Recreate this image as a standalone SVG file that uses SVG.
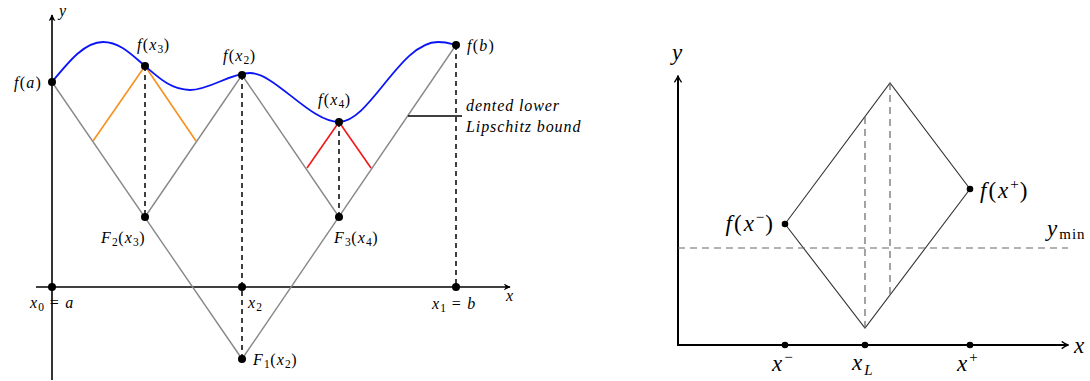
<svg xmlns="http://www.w3.org/2000/svg" width="1090" height="381" viewBox="0 0 1090 381">
<style>
text{font-family:"Liberation Serif","DejaVu Serif",serif;fill:#000}
.m{font-size:16px;letter-spacing:1.2px}
.M{font-size:23px;letter-spacing:2px}
.i{font-style:italic}
.s{font-size:11.5px;letter-spacing:0.5px}
.S{font-size:15px;letter-spacing:1px}
.lab{font-size:16px;letter-spacing:0.9px;font-style:italic}
.axis{stroke:#000;stroke-width:1.6;fill:none}
.gray{stroke:#888;stroke-width:1.4;fill:none}
.dash{stroke:#000;stroke-width:1.5;stroke-dasharray:5 4;fill:none}
.thin{stroke:#333;stroke-width:1.1;fill:none}
.gdash{stroke:#666;stroke-width:1.2;stroke-dasharray:7 5;fill:none}
.dot{fill:#000}
</style>
<defs>
<marker id="arrL" viewBox="0 0 10 10" refX="9" refY="5" markerWidth="7" markerHeight="7" markerUnits="userSpaceOnUse" orient="auto">
<path d="M0,0 L10,5 L0,10 L3,5 Z" fill="#000"/>
</marker>
<marker id="arrR" viewBox="0 0 10 10" refX="9" refY="5" markerWidth="9" markerHeight="9" markerUnits="userSpaceOnUse" orient="auto">
<path d="M2,1 Q6,4 9,5 Q6,6 2,9" fill="none" stroke="#000" stroke-width="1.5"/>
</marker>
</defs>
<rect width="1090" height="381" fill="#fff"/>

<!-- LEFT PLOT -->
<g id="left-axes">
<line class="axis" x1="52" y1="380" x2="52" y2="15" marker-end="url(#arrL)"/>
<line class="axis" x1="36" y1="287" x2="510" y2="287" marker-end="url(#arrL)"/>
<text class="m i" x="59" y="16">y</text>
<text class="m i" x="506" y="301">x</text>
</g>
<g id="left-connectors">
<line class="gray" x1="52" y1="82" x2="242" y2="359"/>
<line class="gray" x1="242" y1="359" x2="456" y2="45"/>
<line class="gray" x1="242" y1="75" x2="145" y2="217"/>
<line class="gray" x1="242" y1="75" x2="339" y2="217"/>
<line stroke="#f7901e" stroke-width="1.6" x1="145" y1="66" x2="93" y2="141"/>
<line stroke="#f7901e" stroke-width="1.6" x1="145" y1="66" x2="196" y2="141"/>
<line stroke="#f01818" stroke-width="1.6" x1="339" y1="122" x2="307" y2="168"/>
<line stroke="#f01818" stroke-width="1.6" x1="339" y1="122" x2="371" y2="168"/>
<line class="dash" x1="145" y1="66" x2="145" y2="217"/>
<line class="dash" x1="242" y1="75" x2="242" y2="359"/>
<line class="dash" x1="339" y1="122" x2="339" y2="217"/>
<line class="dash" x1="456" y1="45" x2="456" y2="287"/>
<path d="M52,82 C70,60 85,42 103,42 C120,42 132,55 145,66 C160,79 172,90 190,90 C210,90 230,73 250,73 C275,73 310,122 339,122 C370,122 400,42 438,42 C447,42 452,44 456,45" fill="none" stroke="#0a14f5" stroke-width="1.8"/>
<line stroke="#000" stroke-width="1.5" x1="408" y1="116" x2="462" y2="116"/>
</g>
<g id="fa"><circle class="dot" cx="52" cy="82" r="4"/><text class="m" x="42" y="88" text-anchor="end"><tspan class="i">f</tspan>(<tspan class="i">a</tspan>)</text></g>
<g id="fx3"><circle class="dot" cx="145" cy="66" r="4"/><text class="m" x="137" y="50"><tspan class="i">f</tspan>(<tspan class="i">x</tspan><tspan class="s" dy="3">3</tspan><tspan dy="-3">)</tspan></text></g>
<g id="fx2"><circle class="dot" cx="242" cy="75" r="4"/><text class="m" x="223" y="61"><tspan class="i">f</tspan>(<tspan class="i">x</tspan><tspan class="s" dy="3">2</tspan><tspan dy="-3">)</tspan></text></g>
<g id="fx4"><circle class="dot" cx="339" cy="122" r="4"/><text class="m" x="318" y="105"><tspan class="i">f</tspan>(<tspan class="i">x</tspan><tspan class="s" dy="3">4</tspan><tspan dy="-3">)</tspan></text></g>
<g id="fb"><circle class="dot" cx="456" cy="45" r="4"/><text class="m" x="467" y="51"><tspan class="i">f</tspan>(<tspan class="i">b</tspan>)</text></g>
<g id="F2x3"><circle class="dot" cx="145" cy="217" r="4"/><text class="m" x="101" y="243"><tspan class="i">F</tspan><tspan class="s" dy="3">2</tspan><tspan dy="-3">(</tspan><tspan class="i">x</tspan><tspan class="s" dy="3">3</tspan><tspan dy="-3">)</tspan></text></g>
<g id="F3x4"><circle class="dot" cx="339" cy="217" r="4"/><text class="m" x="334" y="243"><tspan class="i">F</tspan><tspan class="s" dy="3">3</tspan><tspan dy="-3">(</tspan><tspan class="i">x</tspan><tspan class="s" dy="3">4</tspan><tspan dy="-3">)</tspan></text></g>
<g id="F1x2"><circle class="dot" cx="242" cy="359" r="4"/><text class="m" x="253" y="365"><tspan class="i">F</tspan><tspan class="s" dy="3">1</tspan><tspan dy="-3">(</tspan><tspan class="i">x</tspan><tspan class="s" dy="3">2</tspan><tspan dy="-3">)</tspan></text></g>
<g id="x0"><circle class="dot" cx="52" cy="287" r="4"/><text class="m" x="30" y="308"><tspan class="i">x</tspan><tspan class="s" dy="3">0</tspan><tspan dy="-3"> = </tspan><tspan class="i">a</tspan></text></g>
<g id="x2"><circle class="dot" cx="242" cy="287" r="4"/><text class="m" x="248" y="308"><tspan class="i">x</tspan><tspan class="s" dy="3">2</tspan></text></g>
<g id="x1"><circle class="dot" cx="456" cy="287" r="4"/><text class="m" x="432" y="309"><tspan class="i">x</tspan><tspan class="s" dy="3">1</tspan><tspan dy="-3"> = </tspan><tspan class="i">b</tspan></text></g>
<g id="bound-label"><text class="lab" x="466" y="111">dented lower</text><text class="lab" x="466" y="132">Lipschitz bound</text></g>

<!-- RIGHT PLOT -->
<g id="right-axes">
<line stroke="#000" stroke-width="2" x1="678" y1="346" x2="678" y2="76" marker-end="url(#arrR)"/>
<line stroke="#000" stroke-width="2" x1="677" y1="345" x2="1068" y2="345" marker-end="url(#arrR)"/>
<text class="M i" x="672" y="60">y</text>
<text class="M i" x="1074" y="353">x</text>
</g>
<g id="right-connectors">
<polyline class="thin" points="785,224 890,83 970,189 865,328 785,224"/>
<line class="gdash" x1="865" y1="328" x2="865" y2="117"/>
<line class="gdash" x1="890" y1="83" x2="890" y2="296"/>
<line class="gdash" x1="678" y1="248" x2="1068" y2="248"/>
</g>
<g id="fxm"><circle class="dot" cx="785" cy="224" r="3.3"/><text class="M" x="775" y="231" text-anchor="end"><tspan class="i">f</tspan>(<tspan class="i">x</tspan><tspan class="S" dy="-9">−</tspan><tspan dy="9">)</tspan></text></g>
<g id="fxp"><circle class="dot" cx="970" cy="189" r="3.3"/><text class="M" x="980" y="198"><tspan class="i">f</tspan>(<tspan class="i">x</tspan><tspan class="S" dy="-9">+</tspan><tspan dy="9">)</tspan></text></g>
<g id="ymin"><text class="M" x="1047" y="236"><tspan class="i">y</tspan><tspan class="S" dy="3">min</tspan></text></g>
<g id="xm"><circle class="dot" cx="785" cy="345" r="3.3"/><text class="M" x="772" y="371"><tspan class="i">x</tspan><tspan class="S" dy="-9">−</tspan></text></g>
<g id="xL"><circle class="dot" cx="865" cy="345" r="3.3"/><text class="M" x="852" y="370"><tspan class="i">x</tspan><tspan class="S i" dy="5">L</tspan></text></g>
<g id="xp"><circle class="dot" cx="970" cy="345" r="3.3"/><text class="M" x="957" y="371"><tspan class="i">x</tspan><tspan class="S" dy="-9">+</tspan></text></g>
</svg>
